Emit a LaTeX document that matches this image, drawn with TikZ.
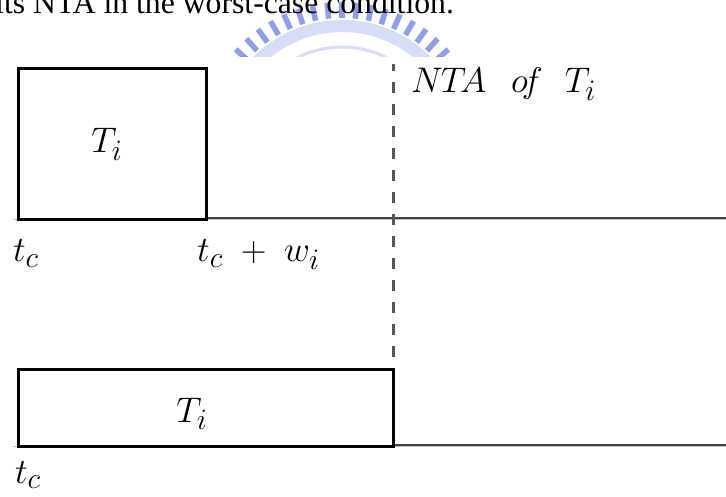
\documentclass[tikz,border=0pt]{standalone}
\usepackage{fontspec}
\newfontfamily\bodyserif{Liberation Serif}
\definecolor{wmblue}{RGB}{145,158,230}
\definecolor{wmlight}{RGB}{216,221,247}
\definecolor{axisgray}{RGB}{64,64,64}
\definecolor{shadegray}{RGB}{190,190,190}
\definecolor{dashgray}{RGB}{85,85,85}
\newcommand{\biglbl}[1]{\scalebox{1.43}{\Huge #1}}
\tikzset{
  taskbox/.style={draw=black,line width=3pt,fill=none},
  axisline/.style={draw=axisgray,line width=2.5pt},
  shadeline/.style={draw=shadegray,line width=1.2pt},
  boundary/.style={draw=dashgray,line width=3pt,dash pattern=on 11pt off 11pt,dash phase=4pt},
  lbl/.style={inner sep=0pt},
}
\begin{document}
\begin{tikzpicture}[x=1pt,y=-1pt]
\useasboundingbox (0,0) rectangle (726,497);
\fill[white] (0,0) rectangle (726,497);
% watermark (clipped at the top of the figure area)
\begin{scope}
\clip (0,0) rectangle (726,57);
\draw[wmlight,line width=12pt] plot[domain=34:146,samples=60] ({342+119*cos(\x)},{145-119*sin(\x)});
\draw[wmlight,line width=3pt] plot[domain=40:140,samples=60] ({342+98*cos(\x)},{145-98*sin(\x)});
\foreach \a in {36,42,...,144}{
  \draw[wmblue,line width=5.5pt] ({342+127*cos(\a)},{145-127*sin(\a)}) -- ({342+143*cos(\a)},{145-143*sin(\a)});
}
\end{scope}
\node[anchor=base west,inner sep=0pt,font=\bodyserif\fontsize{31.7}{36}\selectfont] (caption) at (-5,14) {its NTA in the worst-case condition.};
% upper row
\draw[shadeline] (13,219.5) -- (726,219.5);
\coordinate (axAstart) at (205,218);
\coordinate (axAend) at (726,218);
\draw[axisline] (axAstart) -- (axAend);
\node[taskbox,minimum width=188pt,minimum height=151pt,anchor=north west] (boxA) at (17,67) {};
\node[lbl,anchor=base] (TA) at (107,153) {\biglbl{$T_i$}};
\node[lbl,anchor=base] (tcA) at (26,262) {\biglbl{$t_c$}};
\node[lbl,anchor=base west] (tcw) at (197,262) {\biglbl{$t_c\;+\;w_i$}};
% boundary
\coordinate (bdtop) at (393,64);
\coordinate (bdbot) at (393,445);
\draw[boundary] (bdtop) -- (bdbot);
\node[lbl,anchor=base west] (nta) at (411,93) {\biglbl{$N\!\!\;T\!A\hspace{0.7em}o\!f\hspace{0.62em}T_i$}};
% lower row
\draw[shadeline] (13,446.5) -- (726,446.5);
\coordinate (axBstart) at (392,445);
\coordinate (axBend) at (726,445);
\draw[axisline] (axBstart) -- (axBend);
\node[taskbox,minimum width=375pt,minimum height=77pt,anchor=north west] (boxB) at (17,368) {};
\node[lbl,anchor=base] (TB) at (192,422) {\biglbl{$T_i$}};
\node[lbl,anchor=base] (tcB) at (28,483) {\biglbl{$t_c$}};
\end{tikzpicture}
\end{document}
